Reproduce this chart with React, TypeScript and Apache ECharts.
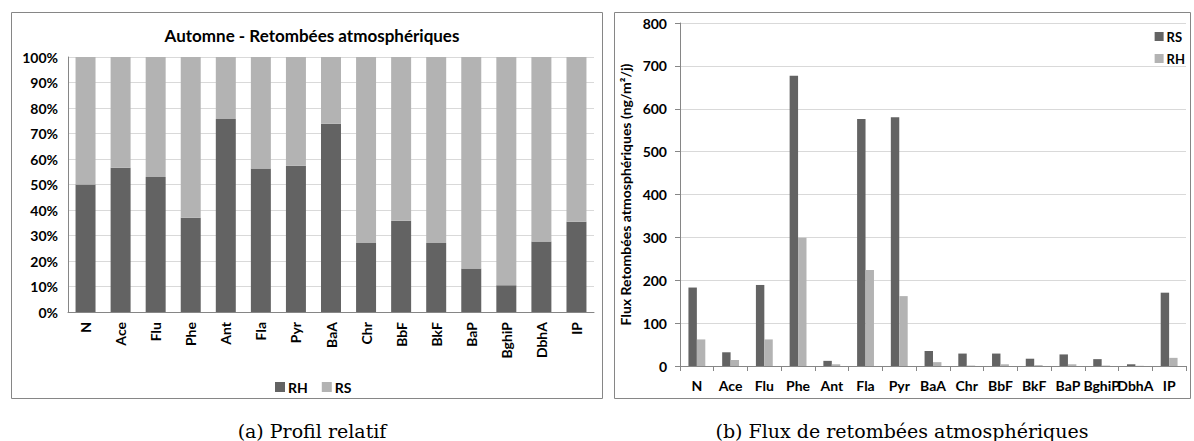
import React, { useEffect, useRef } from "react";
import * as echarts from "echarts";

const categories = ["N", "Ace", "Flu", "Phe", "Ant", "Fla", "Pyr", "BaA", "Chr", "BbF", "BkF", "BaP", "BghiP", "DbhA", "IP"];
const rhPercent = [50, 56.6, 52.9, 37, 75.7, 56.3, 57.4, 73.8, 27.1, 35.8, 27.1, 17.1, 10.5, 27.6, 35.4];
const rsPercent = rhPercent.map((v) => +(100 - v).toFixed(1));
const rsFlux = [183, 32, 189, 677, 12, 576, 580, 35, 29, 29, 17, 27, 16, 4, 171];
const rhFlux = [62, 14, 62, 299, 4, 224, 163, 9, 1, 4, 2, 4, 1, 0.5, 19];
const percentTicks = [0, 10, 20, 30, 40, 50, 60, 70, 80, 90, 100];

const DARK = "#636363";
const LIGHT = "#b3b3b3";
const FONT = "Lato, 'Open Sans', sans-serif";

export default function App() {
  const ref = useRef<HTMLDivElement>(null);
  useEffect(() => {
    if (!ref.current) return;
    const chart = echarts.init(ref.current, undefined, { renderer: "svg" });
    const lbl = { fontFamily: FONT, fontWeight: "bold" as const, color: "#000", fontSize: 14 };
    chart.setOption({
      animation: false,
      backgroundColor: "#fff",
      textStyle: { fontFamily: FONT },
      title: [
        { text: "Automne - Retombées atmosphériques", left: 307, top: 22, textAlign: "center", textStyle: { fontFamily: FONT, fontWeight: "bold", fontSize: 17, color: "#000" } },
        { text: "(a) Profil relatif", left: 307, top: 416, textAlign: "center", textStyle: { fontFamily: "'DejaVu Serif', serif", fontWeight: "normal", fontSize: 19, color: "#000" } },
        { text: "(b) Flux de retombées atmosphériques", left: 897, top: 416, textAlign: "center", textStyle: { fontFamily: "'DejaVu Serif', serif", fontWeight: "normal", fontSize: 19, color: "#000" } },
      ],
      graphic: [
        { type: "rect", shape: { x: 11.5, y: 12.5, width: 591, height: 386 }, style: { fill: "none", stroke: "#868686", lineWidth: 1 }, z: 0 },
        { type: "rect", shape: { x: 614.5, y: 12.5, width: 576, height: 386 }, style: { fill: "none", stroke: "#868686", lineWidth: 1 }, z: 0 },
      ],
      legend: [
        {
          data: ["RH", "RS"].map((n) => ({ name: n })),
          left: 270, top: 375, itemWidth: 10, itemHeight: 10, itemGap: 14, icon: "rect",
          textStyle: { ...lbl, fontSize: 14, padding: [0, 0, 0, -2] },
          selectedMode: false,
        },
        {
          data: [{ name: "RS2" }, { name: "RH2" }],
          formatter: (n: string) => n.replace("2", ""),
          orient: "vertical", right: 4, top: 25, itemWidth: 9, itemHeight: 9, itemGap: 9, icon: "rect",
          textStyle: { ...lbl, fontSize: 13, padding: [0, 0, 0, -2] },
          selectedMode: false,
        },
      ],
      grid: [
        { left: 68, right: 600, top: 57, bottom: 129 },
        { left: 680, right: 8, top: 23, bottom: 75 },
      ],
      xAxis: [
        {
          gridIndex: 0, type: "category", data: categories,
          axisLine: { lineStyle: { color: "#868686" } }, axisTick: { show: false },
          axisLabel: { ...lbl, fontSize: 14, rotate: 90, margin: 10, interval: 0 },
        },
        {
          gridIndex: 1, type: "category", data: categories,
          axisLine: { lineStyle: { color: "#868686" } },
          axisTick: { show: true, length: 5, lineStyle: { color: "#868686" } },
          axisLabel: { ...lbl, fontSize: 14, margin: 12, interval: 0 },
        },
      ],
      yAxis: [
        {
          gridIndex: 0, type: "value", min: 0, max: 100, interval: 10,
          axisLine: { show: true, lineStyle: { color: "#868686" } }, axisTick: { show: false },
          axisLabel: { ...lbl, formatter: (v: number) => (percentTicks.includes(v) ? v + "%" : ""), margin: 10 },
          splitLine: { lineStyle: { color: "#d9d9d9" } },
        },
        {
          gridIndex: 1, type: "value", min: 0, max: 800, interval: 100,
          name: "Flux Retombées atmosphériques (ng/m²/j)", nameLocation: "middle", nameGap: 48, nameRotate: 90,
          nameTextStyle: { ...lbl, fontSize: 14 },
          axisLine: { show: true, lineStyle: { color: "#868686" } },
          axisTick: { show: true, length: 5, lineStyle: { color: "#868686" } },
          axisLabel: { ...lbl, margin: 13 },
          splitLine: { lineStyle: { color: "#d9d9d9" } },
        },
      ],
      series: [
        { name: "RH", type: "bar", stack: "p", xAxisIndex: 0, yAxisIndex: 0, data: rhPercent, itemStyle: { color: DARK }, barCategoryGap: "43%" },
        { name: "RS", type: "bar", stack: "p", xAxisIndex: 0, yAxisIndex: 0, data: rsPercent, itemStyle: { color: LIGHT }, barCategoryGap: "43%" },
        { name: "RS2", type: "bar", xAxisIndex: 1, yAxisIndex: 1, data: rsFlux, itemStyle: { color: DARK }, barGap: "0%", barCategoryGap: "50%" },
        { name: "RH2", type: "bar", xAxisIndex: 1, yAxisIndex: 1, data: rhFlux, itemStyle: { color: LIGHT }, barGap: "0%", barCategoryGap: "50%" },
      ],
    });
    return () => chart.dispose();
  }, []);
  return <div ref={ref} style={{ position: "absolute", left: 0, top: 0, width: 1194, height: 441 }} />;
}
